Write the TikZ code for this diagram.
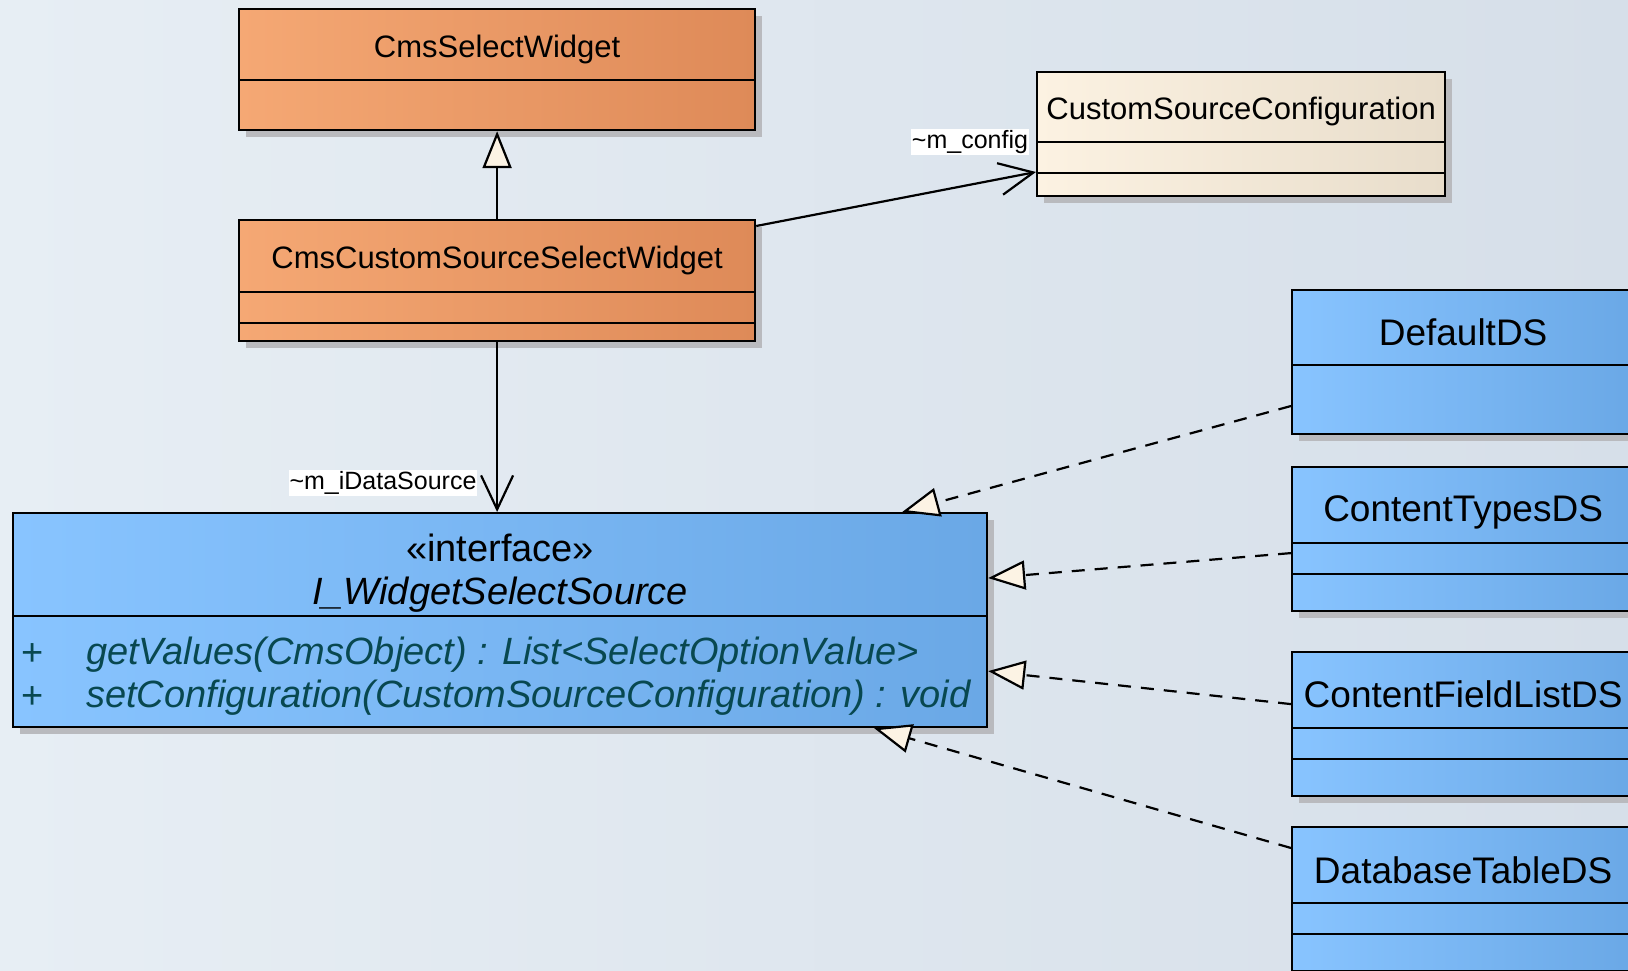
\documentclass[tikz,border=0pt]{standalone}
\usepackage{fontspec}
\setmainfont{Liberation Sans}
\usetikzlibrary{arrows.meta,shadows}

\definecolor{orangeL}{RGB}{245,168,116}
\definecolor{orangeR}{RGB}{222,138,88}
\definecolor{creamL}{RGB}{252,242,226}
\definecolor{creamR}{RGB}{232,221,203}
\definecolor{blueL}{RGB}{136,196,255}
\definecolor{blueR}{RGB}{106,168,230}
\definecolor{trifill}{RGB}{252,243,228}
\definecolor{opcol}{RGB}{8,72,80}
\definecolor{bgL}{RGB}{231,238,244}
\definecolor{bgR}{RGB}{214,223,233}
\definecolor{shadowcol}{RGB}{185,186,190}

\begin{document}
\begin{tikzpicture}[x=1pt, y=-1pt, line width=2.2pt,
  uml/.style={draw, rectangle, inner sep=0pt, anchor=north west,
    drop shadow={shadow xshift=7pt, shadow yshift=-7pt, fill=shadowcol, opacity=1}},
  orangeclass/.style={uml, left color=orangeL, middle color=orangeL!85!orangeR, right color=orangeR},
  creamclass/.style={uml, left color=creamL, right color=creamR},
  blueclass/.style={uml, left color=blueL, right color=blueR},
  smallname/.style={font=\fontsize{31}{36}\selectfont},
  bigname/.style={font=\fontsize{37}{42}\selectfont},
  ifacetext/.style={font=\fontsize{38}{44}\selectfont},
  optext/.style={font=\fontsize{38}{44}\selectfont\itshape, text=opcol, anchor=west, inner sep=0pt},
  rolelabel/.style={font=\fontsize{25}{28}\selectfont, fill=white, inner sep=1pt},
  inherit/.style={-{Triangle[length=37pt, width=29pt, fill=trifill]}},
  realize/.style={inherit, dash pattern=on 13pt off 10pt},
  assoc/.style={-{Straight Barb[length=34pt, width=32pt]}}]
\useasboundingbox (0,0) rectangle (1628,971);
\fill[left color=bgL, right color=bgR] (0,0) rectangle (1628,971);

% classes
\node[orangeclass, minimum width=516pt, minimum height=121pt] (sel) at (238,8) {};
\node[orangeclass, minimum width=516pt, minimum height=121pt] (cust) at (238,219) {};
\node[creamclass, minimum width=408pt, minimum height=124pt] (conf) at (1036,71) {};
\node[blueclass, minimum width=974pt, minimum height=214pt] (iface) at (12,512) {};
\node[blueclass, minimum width=342pt, minimum height=144pt] (dflt) at (1291,289) {};
\node[blueclass, minimum width=342pt, minimum height=144pt] (ctypes) at (1291,466) {};
\node[blueclass, minimum width=342pt, minimum height=144pt] (cfield) at (1291,651) {};
\node[blueclass, minimum width=342pt, minimum height=144pt] (dbtable) at (1291,826) {};

% compartments
\draw (sel.west |- 0,80) -- (sel.east |- 0,80);
\draw (cust.west |- 0,292) -- (cust.east |- 0,292);
\draw (cust.west |- 0,323) -- (cust.east |- 0,323);
\draw (conf.west |- 0,142) -- (conf.east |- 0,142);
\draw (conf.west |- 0,173) -- (conf.east |- 0,173);
\draw (iface.west |- 0,616) -- (iface.east |- 0,616);
\draw (dflt.west |- 0,365) -- (dflt.east |- 0,365);
\draw (ctypes.west |- 0,543) -- (ctypes.east |- 0,543);
\draw (ctypes.west |- 0,574) -- (ctypes.east |- 0,574);
\draw (cfield.west |- 0,728) -- (cfield.east |- 0,728);
\draw (cfield.west |- 0,759) -- (cfield.east |- 0,759);
\draw (dbtable.west |- 0,903) -- (dbtable.east |- 0,903);
\draw (dbtable.west |- 0,934) -- (dbtable.east |- 0,934);

% names
\node[smallname] (seltxt) at (sel.north |- 0,49) {CmsSelectWidget};
\node[smallname] (custtxt) at (cust.north |- 0,260) {CmsCustomSourceSelectWidget};
\node[smallname] (conftxt) at (conf.north |- 0,111) {CustomSourceConfiguration};
\node[ifacetext] (stereo) at (iface.north |- 0,548) {«interface»};
\node[ifacetext, font=\fontsize{38}{44}\selectfont\itshape] (ifacename) at (iface.north |- 0,595) {I\_WidgetSelectSource};
\node[optext, anchor=center, font=\fontsize{38}{44}\selectfont] (vis1) at (33,655) {+};
\node[optext] (op1) at (85,655) {getValues(CmsObject) : List<SelectOptionValue>};
\node[optext, anchor=center, font=\fontsize{38}{44}\selectfont] (vis2) at (33,698) {+};
\node[optext] (op2) at (85,698) {setConfiguration(CustomSourceConfiguration) : void};
\node[bigname] (dflttxt) at (dflt.north |- 0,332) {DefaultDS};
\node[bigname] (ctypestxt) at (ctypes.north |- 0,512) {ContentTypesDS};
\node[bigname] (cfieldtxt) at (cfield.north |- 0,694) {ContentFieldListDS};
\node[bigname] (dbtabletxt) at (dbtable.north |- 0,870) {DatabaseTableDS};

% relations
\draw[inherit] (cust.north) -- (sel.south);
\draw[assoc] ([yshift=-7pt]cust.north east) -- ([yshift=-101pt]conf.north west);
\draw[assoc] (cust.south) -- (cust.south |- iface.north);
\draw[realize] ([yshift=-117pt]dflt.north west) -- ([xshift=-86pt]iface.north east);
\draw[realize] ([yshift=-14pt]ctypes.west) -- ([yshift=42pt]iface.east);
\draw[realize] ([yshift=20pt]cfield.west) -- ([yshift=-51pt]iface.east);
\draw[realize] ([yshift=-22pt]dbtable.north west) -- ([xshift=-114pt]iface.south east);

\node[rolelabel] (cfglbl) at (970,142) {\textasciitilde m\_config};
\node[rolelabel] (dslbl) at (383,483) {\textasciitilde m\_iDataSource};
\end{tikzpicture}
\end{document}
